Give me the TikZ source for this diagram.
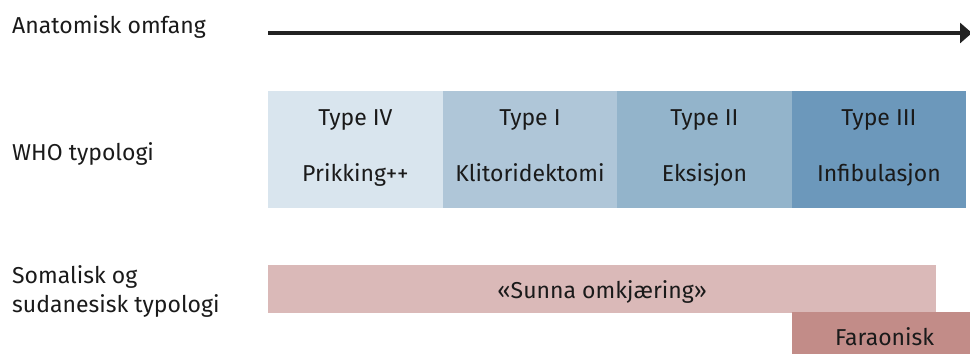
\documentclass[tikz,border=0pt]{standalone}
\usepackage{fontspec}
\setmainfont{Fira Sans}
\usetikzlibrary{arrows.meta}

\definecolor{inkdark}{HTML}{1A1A1A}
\definecolor{arrowgrey}{HTML}{222222}
\definecolor{whoA}{HTML}{D9E5EE}
\definecolor{whoB}{HTML}{AFC6D8}
\definecolor{whoC}{HTML}{93B4CB}
\definecolor{whoD}{HTML}{6C98BB}
\definecolor{sunnafill}{HTML}{DAB9B8}
\definecolor{faraofill}{HTML}{C28C88}

\begin{document}
\begin{tikzpicture}[x=1pt,y=-1pt,
  every node/.style={font=\fontsize{23}{28}\selectfont, text=inkdark},
  band/.style={draw=none, inner sep=0pt, anchor=north west},
  whobox/.style={band, minimum width=174.5pt, minimum height=117pt},
  lbl/.style={inner sep=0pt, anchor=base},
  sidelbl/.style={inner sep=0pt, anchor=base west}]

  \useasboundingbox (0,0) rectangle (970,354);

  % scale arrow
  \coordinate (arrS) at (268,33);
  \coordinate (arrE) at (972,33);
  \draw[arrowgrey, line width=3.2pt, -{Triangle[length=12pt,width=20pt]}] (arrS) -- (arrE);

  % row labels
  \node[sidelbl] (lanat) at (12,33) {Anatomisk omfang};
  \node[sidelbl] (lwho)  at (12,160) {WHO typologi};
  \node[sidelbl] (lsom1) at (12,283) {Somalisk og};
  \node[sidelbl] (lsom2) at (12,312) {sudanesisk typologi};

  % WHO classification bands
  \node[whobox, fill=whoA] (t4) at (268,91) {};
  \node[whobox, fill=whoB] (t1) at (442.5,91) {};
  \node[whobox, fill=whoC] (t2) at (617,91) {};
  \node[whobox, fill=whoD] (t3) at (791.5,91) {};

  \foreach \b/\ta/\tb in {t4/Type IV/Prikking++, t1/Type I/Klitoridektomi,
                          t2/Type II/Eksisjon, t3/Type III/Infibulasjon}{
    \node[lbl] (\b-top) at ([yshift=24.5pt]\b.center) {\ta};
    \node[lbl] (\b-bot) at ([yshift=-31.5pt]\b.center) {\tb};
  }

  % Somali / Sudanese classification
  \node[band, fill=sunnafill, minimum width=668pt, minimum height=48pt] (sunna) at (268,265) {};
  \node[lbl] (sunnatxt) at ([yshift=-9pt]sunna.center) {«Sunna omkjæring»};
  \node[band, fill=faraofill, minimum width=179pt, minimum height=42pt] (farao) at (792,312) {};
  \node[lbl] (faraotxt) at ([xshift=3pt,yshift=-12pt]farao.center) {Faraonisk};
\end{tikzpicture}
\end{document}
